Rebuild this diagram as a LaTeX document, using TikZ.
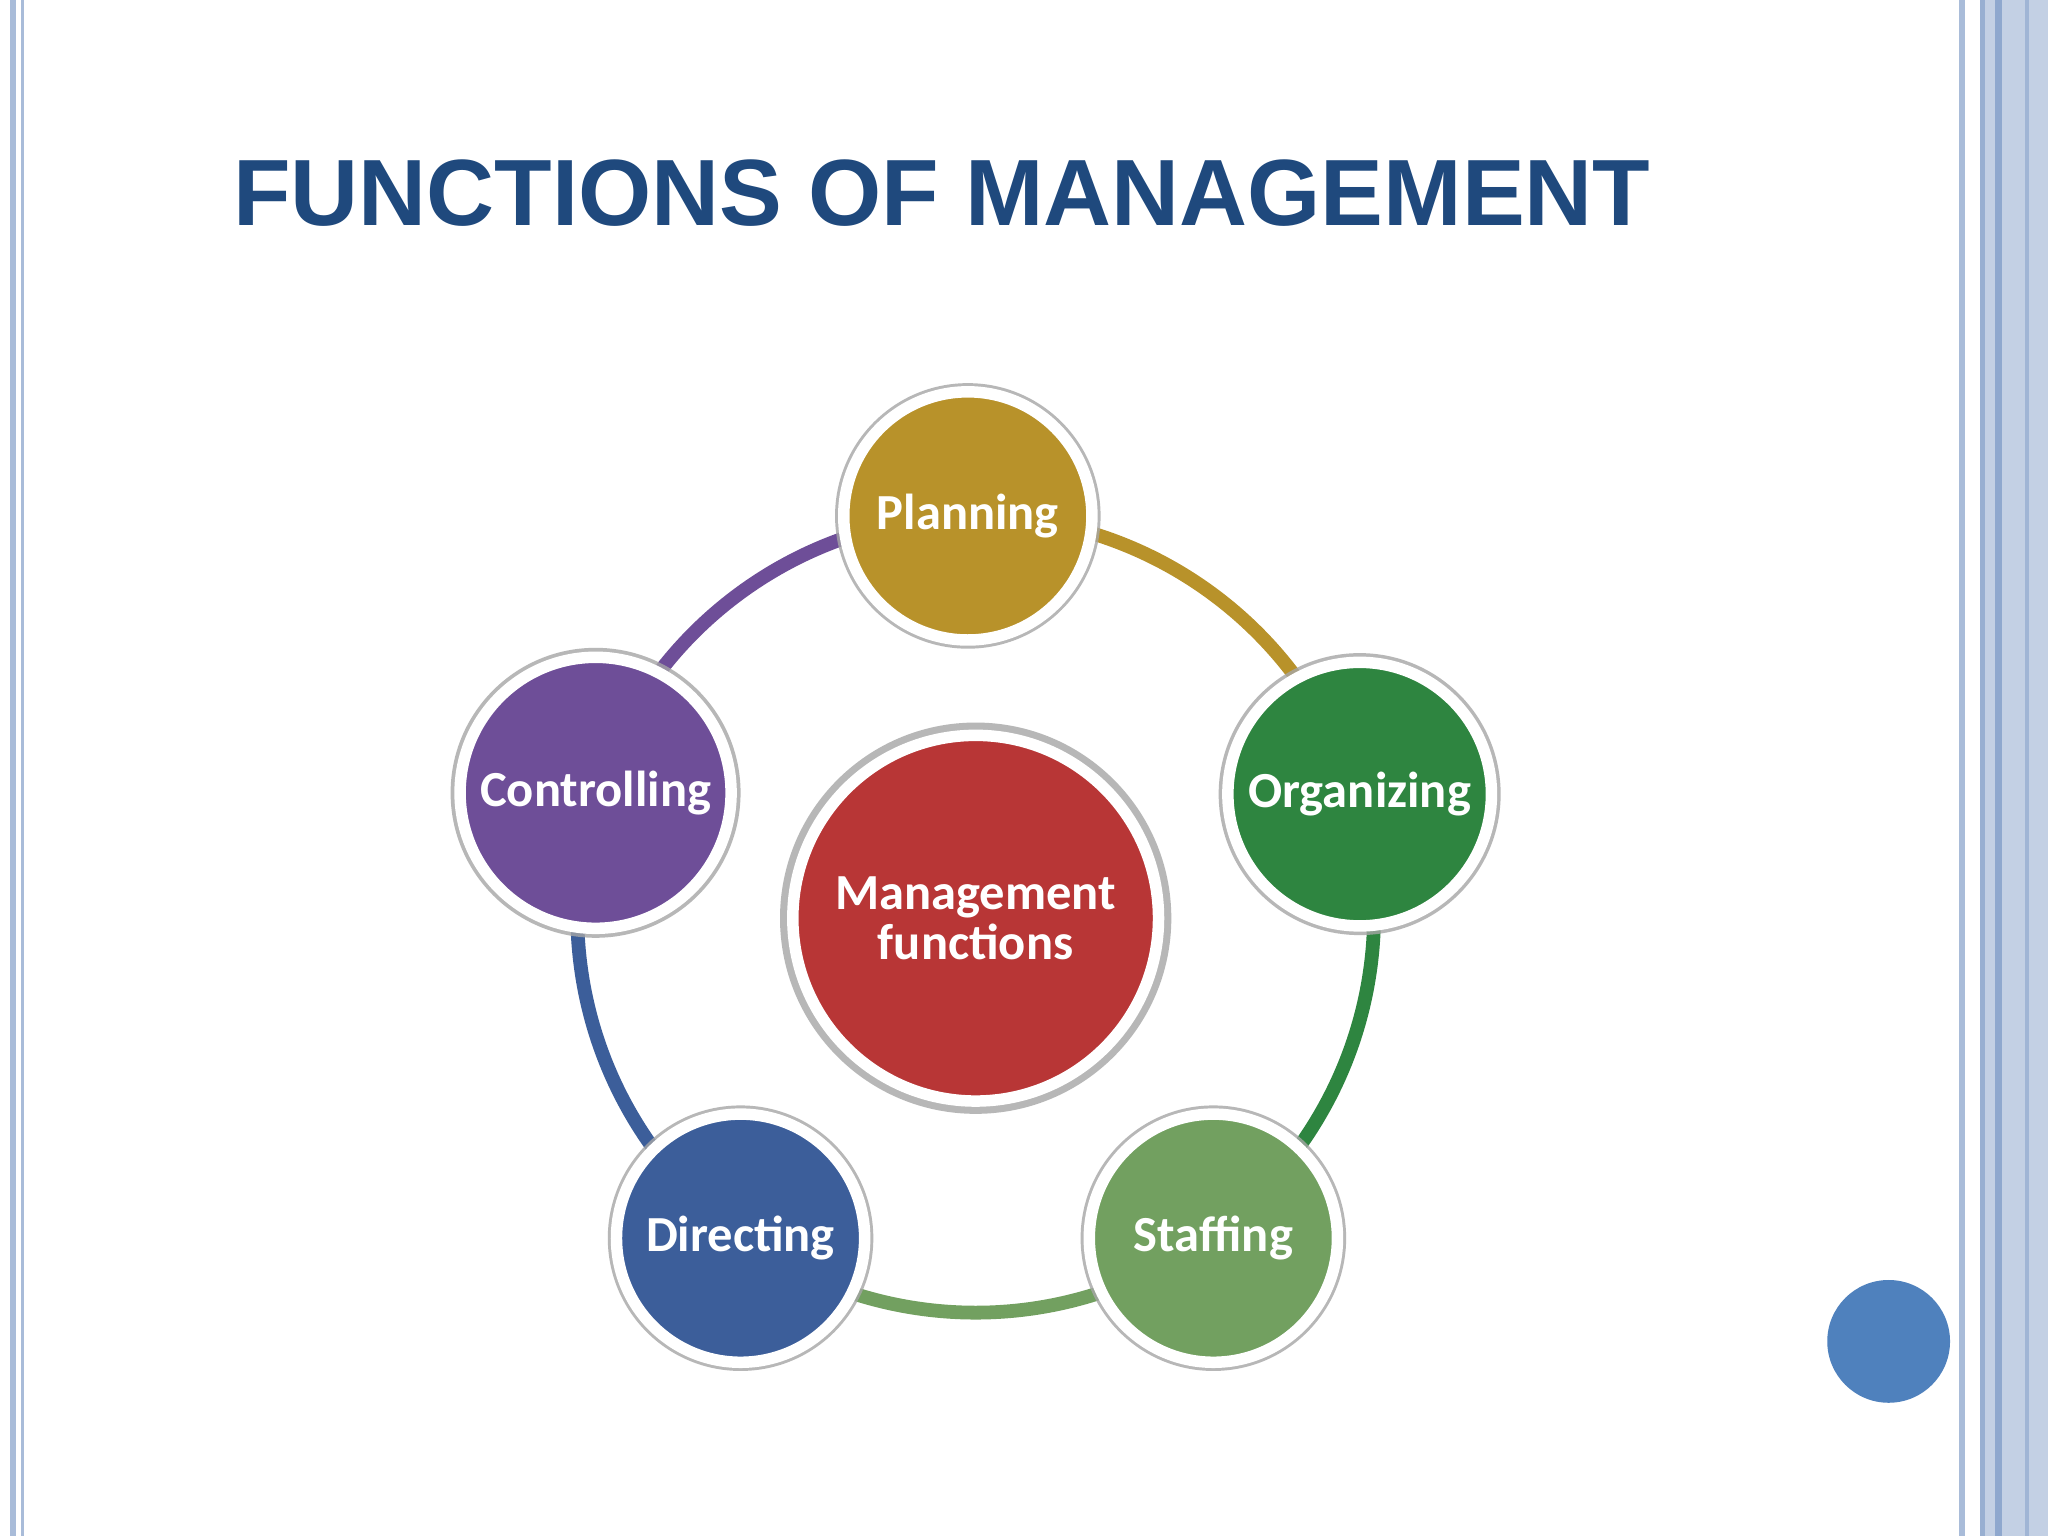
\documentclass[tikz,border=0pt]{standalone}
\usepackage{fontspec}
\setmainfont{Carlito}
\newfontfamily\titlefont{Liberation Sans}
\usetikzlibrary{shadows}
\definecolor{titleblue}{HTML}{1F497D}
\definecolor{cplan}{HTML}{B8922A}
\definecolor{corg}{HTML}{2E8540}
\definecolor{cstaff}{HTML}{72A060}
\definecolor{cdir}{HTML}{3C5E9A}
\definecolor{cctrl}{HTML}{6E4E98}
\definecolor{cmgmt}{HTML}{B83636}
\definecolor{border}{HTML}{A9BCD9}
\definecolor{cdot}{HTML}{4F81BD}
\tikzset{
  func/.style={circle, minimum size=190*0.01cm, draw=white, line width=2.5pt, fill=#1,
    text=white, font=\bfseries\fontsize{11}{13}\selectfont, align=center,
    drop shadow={shadow xshift=0pt, shadow yshift=0pt, shadow scale=1.07, fill=gray!70, opacity=0.8}},
  ring/.style={line width=3pt, draw=#1}
}
\begin{document}
\begin{tikzpicture}[x=0.01cm,y=-0.01cm]
\useasboundingbox (0,0) rectangle (1568,1176);
\fill[white] (0,0) rectangle (1568,1176);
% borders
\draw[border, line width=1.2pt] (10,0) -- (10,1176);
\draw[border, line width=0.6pt] (17,0) -- (17,1176);
\draw[border, line width=1.2pt] (1502,0) -- (1502,1176);
\fill[border!70] (1516,0) rectangle (1568,1176);
\draw[border!120, line width=1pt] (1518,0) -- (1518,1176);
\draw[border!130, line width=1.5pt] (1530,0) -- (1530,1176);
\draw[border!110, line width=1pt] (1552,0) -- (1552,1176);
% title
\node[anchor=west, text=titleblue, font=\titlefont\bfseries\fontsize{20.5}{24}\selectfont] (title) at (166,148) {FUNCTIONS OF MANAGEMENT};
% ring
\coordinate (rc) at (747,700);
\draw[ring=cplan] (rc) ++(90:-305) arc[start angle=-90, end angle=-18, radius=305];
\draw[ring=corg] (rc) ++(-18:305) arc[start angle=-18, end angle=54, radius=305];
\draw[ring=cstaff] (rc) ++(54:305) arc[start angle=54, end angle=126, radius=305];
\draw[ring=cdir] (rc) ++(126:305) arc[start angle=126, end angle=198, radius=305];
\draw[ring=cctrl] (rc) ++(198:305) arc[start angle=198, end angle=270, radius=305];
% nodes
\node[func=cplan] (plan) at (741,395) {Planning};
\node[func=corg] (org) at (1041,608) {Organizing};
\node[func=cstaff] (staff) at (929,948) {Staffing};
\node[func=cdir] (dir) at (567,948) {Directing};
\node[func=cctrl] (ctrl) at (456,607) {Controlling};
\node[func=cmgmt, minimum size=280*0.01cm] (mgmt) at (747,703) {Management\\[-2pt]functions};
% dot
\node[circle, fill=cdot, minimum size=94*0.01cm] (dot) at (1446,1027) {};
\end{tikzpicture}
\end{document}
